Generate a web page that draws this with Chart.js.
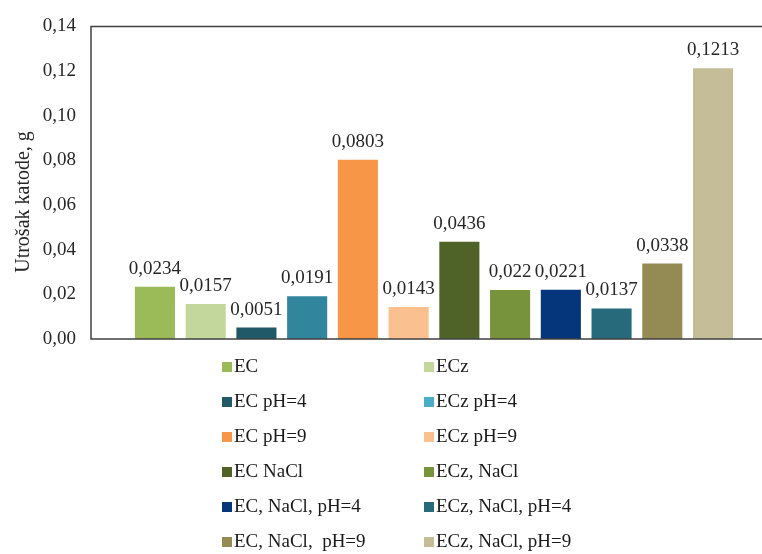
<!DOCTYPE html>
<html>
<head>
<meta charset="utf-8">
<script src="https://cdn.jsdelivr.net/npm/chart.js@4.4.0/dist/chart.umd.min.js"></script>
<style>
  html, body { margin: 0; padding: 0; background: #fff; overflow: hidden; }
  /* plot area runs past the right edge of the window, as in the source image */
  #wrap { position: relative; width: 780px; height: 554px; }
</style>
</head>
<body>
<div id="wrap"><canvas id="chart"></canvas></div>
<script>
const seriesNames = [
    "EC", "ECz",
    "EC pH=4", "ECz pH=4",
    "EC pH=9", "ECz pH=9",
    "EC NaCl", "ECz, NaCl",
    "EC, NaCl, pH=4", "ECz, NaCl, pH=4",
    "EC, NaCl,  pH=9", "ECz, NaCl, pH=9"
];
const seriesValues = [0.0234, 0.0157, 0.0051, 0.0191, 0.0803, 0.0143, 0.0436, 0.022, 0.0221, 0.0137, 0.0338, 0.1213];
const yTicks = [0, 0.02, 0.04, 0.06, 0.08, 0.10, 0.12, 0.14];
const yTitle = "Utrošak katode, g";

const barColors = ["#9BBB59", "#C3D69B", "#215968", "#31859C", "#F79646", "#FAC090",
                   "#4F6228", "#77933C", "#05357A", "#276A7C", "#948A54", "#C4BD97"];
const legendColors = ["#9BBB59", "#C3D69B", "#215968", "#4BACC6", "#F79646", "#FAC090",
                      "#4F6228", "#77933C", "#05357A", "#276A7C", "#948A54", "#C4BD97"];

const FONT = '"Liberation Serif", "Times New Roman", serif';
const comma = v => String(v).replace(".", ",");

const framePlugin = {
    id: "frame",
    afterDraw(chart) {
        const { ctx, chartArea: a } = chart;
        ctx.save();
        ctx.strokeStyle = "#404040";
        ctx.lineWidth = 1.5;
        ctx.beginPath();
        ctx.moveTo(a.right + 5, a.top);
        ctx.lineTo(a.left, a.top);
        ctx.lineTo(a.left, a.bottom);
        ctx.lineTo(a.right + 5, a.bottom);
        ctx.stroke();
        ctx.restore();
    }
};

const valueLabelPlugin = {
    id: "valueLabels",
    afterDatasetsDraw(chart) {
        const ctx = chart.ctx;
        ctx.save();
        ctx.font = "19px " + FONT;
        ctx.fillStyle = "#262626";
        ctx.textAlign = "center";
        ctx.textBaseline = "alphabetic";
        chart.data.datasets.forEach((ds, i) => {
            const bar = chart.getDatasetMeta(i).data[0];
            ctx.fillText(comma(ds.data[0]), bar.x, bar.y - 13);
        });
        ctx.restore();
    }
};

const yTitlePlugin = {
    id: "yTitle",
    afterDraw(chart) {
        const ctx = chart.ctx;
        ctx.save();
        ctx.translate(24, 202);
        ctx.rotate(-Math.PI / 2);
        ctx.font = "20px " + FONT;
        ctx.fillStyle = "#262626";
        ctx.textAlign = "center";
        ctx.textBaseline = "middle";
        ctx.fillText(yTitle, 0, 0);
        ctx.restore();
    }
};

// two column legend under the plot
const legendPlugin = {
    id: "twoColLegend",
    afterDraw(chart) {
        const ctx = chart.ctx;
        const colX = [222, 424];
        const rowY0 = 367, rowStep = 35, box = 10;
        ctx.save();
        ctx.font = "19px " + FONT;
        ctx.textAlign = "left";
        ctx.textBaseline = "middle";
        chart.data.datasets.forEach((ds, i) => {
            const x = colX[i % 2];
            const y = rowY0 + Math.floor(i / 2) * rowStep;
            ctx.fillStyle = legendColors[i];
            ctx.fillRect(x, y - box / 2, box, box);
            ctx.fillStyle = "#1a1a1a";
            ctx.fillText(ds.label, x + box + 2, y);
        });
        ctx.restore();
    }
};

new Chart(document.getElementById("chart"), {
    type: "bar",
    data: {
        labels: [""],
        datasets: seriesNames.map((name, i) => ({
            label: name,
            data: [seriesValues[i]],
            backgroundColor: barColors[i],
            borderWidth: 0
        }))
    },
    options: {
        responsive: true,
        maintainAspectRatio: false,
        animation: false,
        categoryPercentage: 0.8875,
        barPercentage: 0.79,
        layout: { padding: { top: 24, bottom: 215, left: 0, right: 3 } },
        plugins: {
            legend: { display: false },
            tooltip: { enabled: false }
        },
        scales: {
            x: { display: false },
            y: {
                min: 0,
                max: 0.14,
                afterBuildTicks: s => { s.ticks = yTicks.map(v => ({ value: v })); },
                afterFit: s => { s.width = 91; },
                grid: { display: false, drawTicks: false },
                border: { display: false },
                ticks: {
                    padding: 15,
                    color: "#262626",
                    font: { family: FONT, size: 19 },
                    callback: v => v.toFixed(2).replace(".", ",")
                }
            }
        }
    },
    plugins: [framePlugin, valueLabelPlugin, yTitlePlugin, legendPlugin]
});
</script>
</body>
</html>
